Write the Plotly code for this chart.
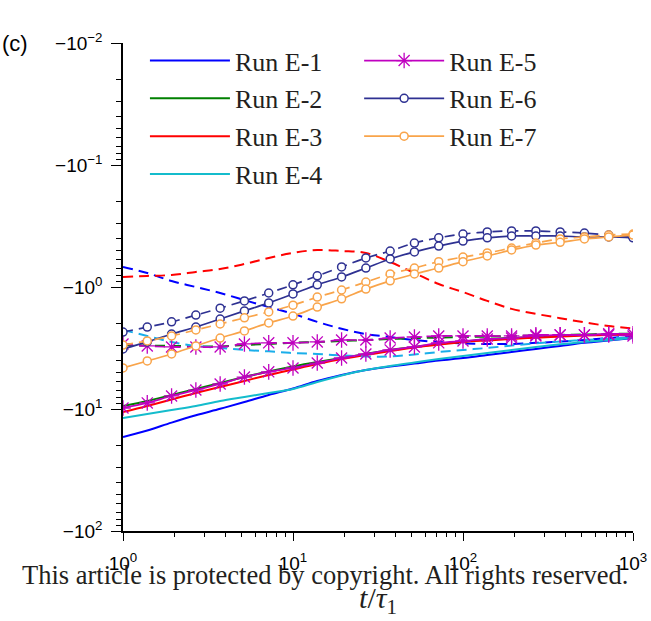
import plotly.graph_objects as go

# time grid t/tau1 (marker positions)
t = [1, 1.389, 1.931, 2.683, 3.728, 5.179, 7.197, 10, 13.89, 19.31, 26.83,
     37.28, 51.79, 71.97, 100, 138.9, 193.1, 268.3, 372.8, 517.9, 719.7, 1000]

e1_solid = [-16.96, -15.0, -12.93, -11.27, -9.96, -8.76, -7.67, -6.79, -5.89, -5.26, -4.79,
            -4.49, -4.24, -4.00, -3.82, -3.61, -3.41, -3.22, -3.04, -2.87, -2.74, -2.62]
e1_dash = [-0.685, -0.768, -0.893, -1.0, -1.12, -1.28, -1.46, -1.66, -1.93, -2.20, -2.43,
           -2.57, -2.72, -2.82, -2.90, -2.93, -2.93, -2.87, -2.80, -2.72, -2.62, -2.52]
e2_solid = [-9.45, -8.60, -7.67, -6.85, -6.12, -5.47, -4.93, -4.48, -4.12, -3.82, -3.54,
            -3.28, -3.10, -2.93, -2.80, -2.69, -2.62, -2.57, -2.52, -2.47, -2.45, -2.42]
e2_dash = [-2.99, -3.02, -3.04, -3.07, -3.07, -2.99, -2.93, -2.87, -2.82, -2.77, -2.72,
           -2.67, -2.62, -2.60, -2.57, -2.55, -2.52, -2.50, -2.47, -2.45, -2.42, -2.42]
e3_solid = [-10.6, -9.45, -8.36, -7.39, -6.60, -5.89, -5.26, -4.74, -4.28, -3.90, -3.61,
            -3.35, -3.13, -2.97, -2.82, -2.74, -2.67, -2.60, -2.55, -2.50, -2.47, -2.45]
e3_dash = [-0.827, -0.811, -0.797, -0.753, -0.712, -0.648, -0.578, -0.526, -0.497, -0.507, -0.526,
           -0.624, -0.768, -0.945, -1.10, -1.30, -1.51, -1.66, -1.80, -1.95, -2.09, -2.19]
e4_solid = [-11.85, -10.99, -10.19, -9.45, -8.60, -7.97, -7.39, -6.85, -6.0, -5.31, -4.79,
            -4.44, -4.16, -3.90, -3.68, -3.48, -3.28, -3.10, -2.95, -2.82, -2.72, -2.60]
e4_dash = [-2.25, -2.52, -2.82, -3.04, -3.16, -3.28, -3.37, -3.48, -3.54, -3.64, -3.71,
           -3.71, -3.57, -3.41, -3.28, -3.16, -3.02, -2.90, -2.80, -2.72, -2.64, -2.57]
e5_solid = [-9.81, -8.91, -7.82, -6.99, -6.24, -5.47, -4.96, -4.61, -4.20, -3.82, -3.54,
            -3.28, -3.10, -2.87, -2.77, -2.67, -2.62, -2.52, -2.47, -2.47, -2.42, -2.42]
e5_dash = [-2.93, -3.04, -3.10, -3.10, -3.10, -2.93, -2.87, -2.87, -2.82, -2.72, -2.72,
           -2.62, -2.57, -2.52, -2.52, -2.52, -2.52, -2.47, -2.47, -2.47, -2.47, -2.52]
e6_solid = [-3.22, -2.82, -2.43, -2.13, -1.83, -1.57, -1.35, -1.14, -0.96, -0.827, -0.699,
            -0.589, -0.516, -0.462, -0.42, -0.395, -0.382, -0.382, -0.382, -0.389, -0.389, -0.395]
e6_dash = [-2.34, -2.13, -1.93, -1.70, -1.49, -1.30, -1.12, -0.96, -0.81, -0.685, -0.578,
           -0.507, -0.436, -0.395, -0.368, -0.354, -0.347, -0.347, -0.354, -0.361, -0.375, -0.39]
e7_solid = [-4.61, -4.04, -3.54, -3.04, -2.62, -2.29, -1.97, -1.73, -1.46, -1.25, -1.04,
            -0.89, -0.782, -0.699, -0.62, -0.557, -0.497, -0.453, -0.43, -0.404, -0.389, -0.375]
e7_dash = [-2.99, -2.77, -2.52, -2.25, -2.01, -1.79, -1.60, -1.41, -1.21, -1.058, -0.91,
           -0.782, -0.699, -0.62, -0.568, -0.526, -0.479, -0.436, -0.404, -0.389, -0.375, -0.368]

run_names = ["Run E-1", "Run E-2", "Run E-3", "Run E-4", "Run E-5", "Run E-6", "Run E-7"]
solid_series = [e1_solid, e2_solid, e3_solid, e4_solid, e5_solid, e6_solid, e7_solid]
dash_series = [e1_dash, e2_dash, e3_dash, e4_dash, e5_dash, e6_dash, e7_dash]
solid_colors = ["#0000ff", "#008000", "#ff0000", "#14bccc", "#c000c0", "#2e3192", "#f9a44a"]
dash_colors = ["#0000ff", "#008000", "#ff0000", "#1aaeea", "#c000c0", "#2e3192", "#f9a44a"]

y_tickvals = [0.01, 0.1, 1, 10, 100]
y_ticktext = ["\u221210<sup>\u22122</sup>", "\u221210<sup>\u22121</sup>", "\u221210<sup>0</sup>",
              "\u221210<sup>1</sup>", "\u221210<sup>2</sup>"]
x_tickvals = [1, 10, 100, 1000]
x_ticktext = ["10<sup>0</sup>", "10<sup>1</sup>", "10<sup>2</sup>", "10<sup>3</sup>"]

DASH = "10px,6px"
SERIF = "Liberation Serif, Times New Roman, serif"
SANS = "Liberation Sans, Arial, sans-serif"

fig = go.Figure()

for i, name in enumerate(run_names):
    mag_s = [-v for v in solid_series[i]]
    mag_d = [-v for v in dash_series[i]]
    legend = "legend" if i < 4 else "legend2"
    if i < 4:
        mode = "lines"
        marker = None
    elif i == 4:
        mode = "lines+markers"
        marker = dict(symbol="asterisk-open", size=13, color=solid_colors[i],
                      line=dict(color=solid_colors[i], width=1.3))
    else:
        mode = "lines+markers"
        marker = dict(symbol="circle", size=8, color="white",
                      line=dict(color=solid_colors[i], width=1.5))
    w = 2 if i < 4 else 1.7
    fig.add_trace(go.Scatter(x=t, y=mag_d, mode=mode, name=name, showlegend=False,
                             legendgroup=name,
                             line=dict(color=dash_colors[i], width=w, dash=DASH, shape="spline"),
                             marker=marker, legend=legend))
    fig.add_trace(go.Scatter(x=t, y=mag_s, mode=mode, name=name, showlegend=True,
                             legendgroup=name,
                             line=dict(color=solid_colors[i], width=w, shape="spline"),
                             marker=marker, legend=legend))

minor_y = [m * 10 ** k for k in range(-2, 2) for m in range(2, 10)]
minor_x = [m * 10 ** k for k in range(0, 3) for m in range(2, 10)]

axis_font = dict(family=SANS, size=19, color="black")
legend_font = dict(family=SERIF, size=26, color="#231f20")

fig.update_layout(
    template="none",
    width=651, height=621,
    margin=dict(l=123, r=18, t=43, b=90, autoexpand=False),
    paper_bgcolor="white", plot_bgcolor="white",
    xaxis=dict(type="log", range=[0, 3], showline=True, linecolor="black", linewidth=1.5,
               automargin=False,
               ticks="outside", ticklen=8, tickwidth=1, tickcolor="black",
               tickvals=x_tickvals, ticktext=x_ticktext, tickfont=axis_font,
               ticklabelstandoff=6,
               minor=dict(tickvals=minor_x, ticks="outside", ticklen=4, tickwidth=1,
                          tickcolor="black", showgrid=False),
               showgrid=False, zeroline=False,
               title=dict(text="<i>t</i>/<i>\u03c4</i><sub>1</sub>",
                          font=dict(family=SERIF, size=30, color="#231f20"),
                          standoff=14)),
    yaxis=dict(type="log", range=[2, -2], showline=True, linecolor="black", linewidth=1.5,
               automargin=False,
               ticks="outside", ticklen=10, tickwidth=1, tickcolor="black",
               tickvals=y_tickvals, ticktext=y_ticktext, tickfont=axis_font,
               ticklabelstandoff=5,
               minor=dict(tickvals=minor_y, ticks="outside", ticklen=5, tickwidth=1,
                          tickcolor="black", showgrid=False),
               showgrid=False, zeroline=False),
    legend=dict(x=0.043, y=1.012, xanchor="left", yanchor="top", bgcolor="rgba(0,0,0,0)",
                font=legend_font, tracegroupgap=1, itemwidth=80),
    legend2=dict(x=0.463, y=1.012, xanchor="left", yanchor="top", bgcolor="rgba(0,0,0,0)",
                 font=legend_font, tracegroupgap=1, itemwidth=80),
    annotations=[
        dict(text="(c)", xref="paper", yref="paper", x=-0.241, y=1.0, xanchor="left",
             yanchor="middle", showarrow=False,
             font=dict(family=SANS, size=22, color="black")),
        dict(text="This article is protected by copyright. All rights reserved.",
             xref="paper", yref="paper", x=0.396, y=-0.09, xanchor="center", yanchor="middle",
             showarrow=False,
             font=dict(family=SERIF, size=26.5, color="#231f20")),
    ],
)

fig.write_html("out.html")
